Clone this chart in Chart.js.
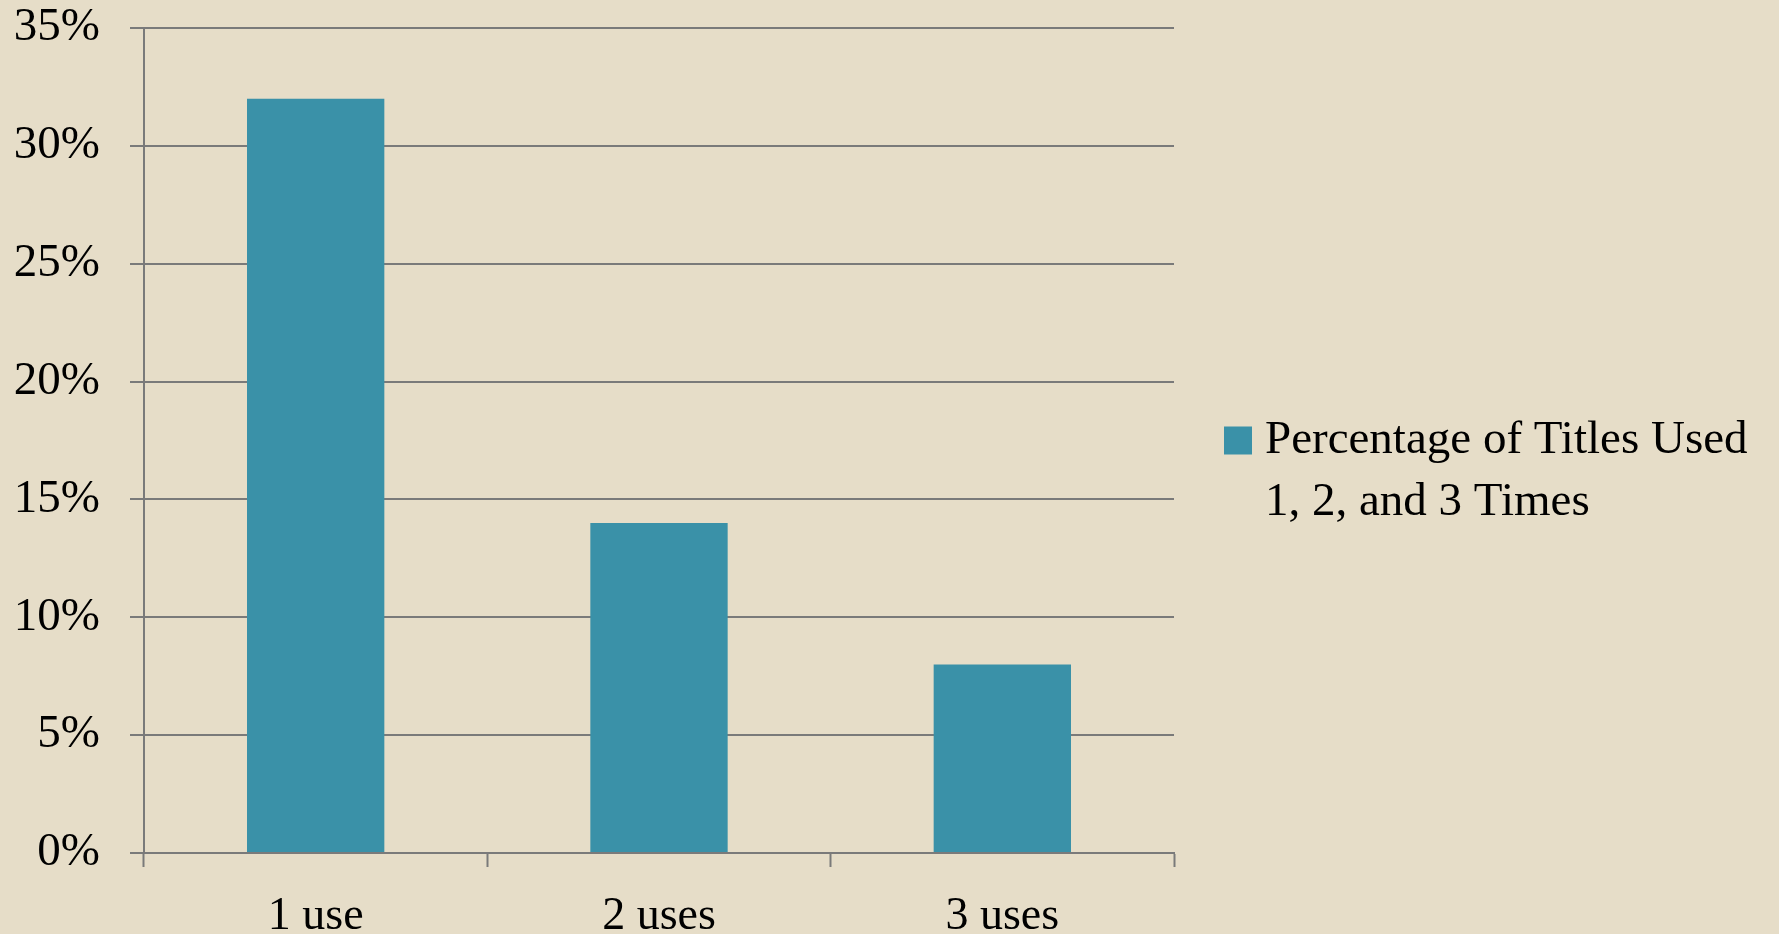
<!DOCTYPE html>
<html>
<head>
<meta charset="utf-8">
<script src="https://cdn.jsdelivr.net/npm/chart.js@4/dist/chart.umd.min.js"></script>
<style>
  html, body { margin: 0; padding: 0; background: #e6ddc8; }
  #wrap { width: 1779px; height: 934px; position: relative; }
</style>
</head>
<body>
<div id="wrap"><canvas id="usesChart"></canvas></div>
<script>
const categories = ['1 use', '2 uses', '3 uses'];
const percentages = [32, 14, 8];
const legendLines = ['Percentage of Titles Used', '1, 2, and 3 Times'];
const yMax = 35;
const yStep = 5;

const barColor = '#3a91a8';
const gridColor = '#7a7a7a';
const fontFamily = '"Liberation Serif", "Times New Roman", serif';
const fontSize = 47;

// legend on the right, with the label wrapped on two lines
const sideLegend = {
    id: 'sideLegend',
    afterDraw(chart) {
        const ctx = chart.ctx;
        const area = chart.chartArea;
        const ds = chart.data.datasets[0];
        const boxX = area.right + 50;
        const midY = (area.top + area.bottom) / 2;
        const box = 28;
        ctx.save();
        ctx.fillStyle = ds.backgroundColor;
        ctx.fillRect(boxX, midY - box / 2, box, box);
        ctx.fillStyle = '#000';
        ctx.font = fontSize + 'px ' + fontFamily;
        ctx.textBaseline = 'middle';
        ctx.textAlign = 'left';
        legendLines.forEach((line, i) => {
            ctx.fillText(line, boxX + 41, midY + i * 62);
        });
        ctx.restore();
    }
};

const data = {
    labels: categories,
    datasets: [{
        label: legendLines.join(' '),
        data: percentages,
        backgroundColor: barColor,
        borderWidth: 0,
        categoryPercentage: 1,
        barPercentage: 0.4
    }]
};

const config = {
    type: 'bar',
    data,
    options: {
        responsive: true,
        maintainAspectRatio: false,
        animation: false,
        layout: {
            padding: { top: 28, right: 605, left: 0, bottom: 0 }
        },
        plugins: {
            legend: { display: false },
            tooltip: { enabled: false }
        },
        scales: {
            x: {
                offset: true,
                grid: {
                    offset: true,
                    drawOnChartArea: false,
                    drawTicks: true,
                    tickLength: 14,
                    tickWidth: 2,
                    color: gridColor
                },
                border: { color: gridColor, width: 2 },
                ticks: {
                    color: '#000',
                    padding: 22,
                    font: { family: fontFamily, size: fontSize - 1 }
                },
                afterFit: (s) => { s.height = 81; }
            },
            y: {
                min: 0,
                max: yMax,
                grid: {
                    color: gridColor,
                    lineWidth: 2,
                    tickLength: 14
                },
                border: { color: gridColor, width: 2 },
                ticks: {
                    stepSize: yStep,
                    color: '#000',
                    padding: 30,
                    font: { family: fontFamily, size: fontSize },
                    callback: (v) => v + '%'
                },
                afterFit: (s) => {
                    s.width = 144;
                    s.paddingTop = 0;
                    s.paddingBottom = 0;
                }
            }
        }
    },
    plugins: [sideLegend]
};

const usesChart = new Chart(document.getElementById('usesChart'), config);
</script>
</body>
</html>
